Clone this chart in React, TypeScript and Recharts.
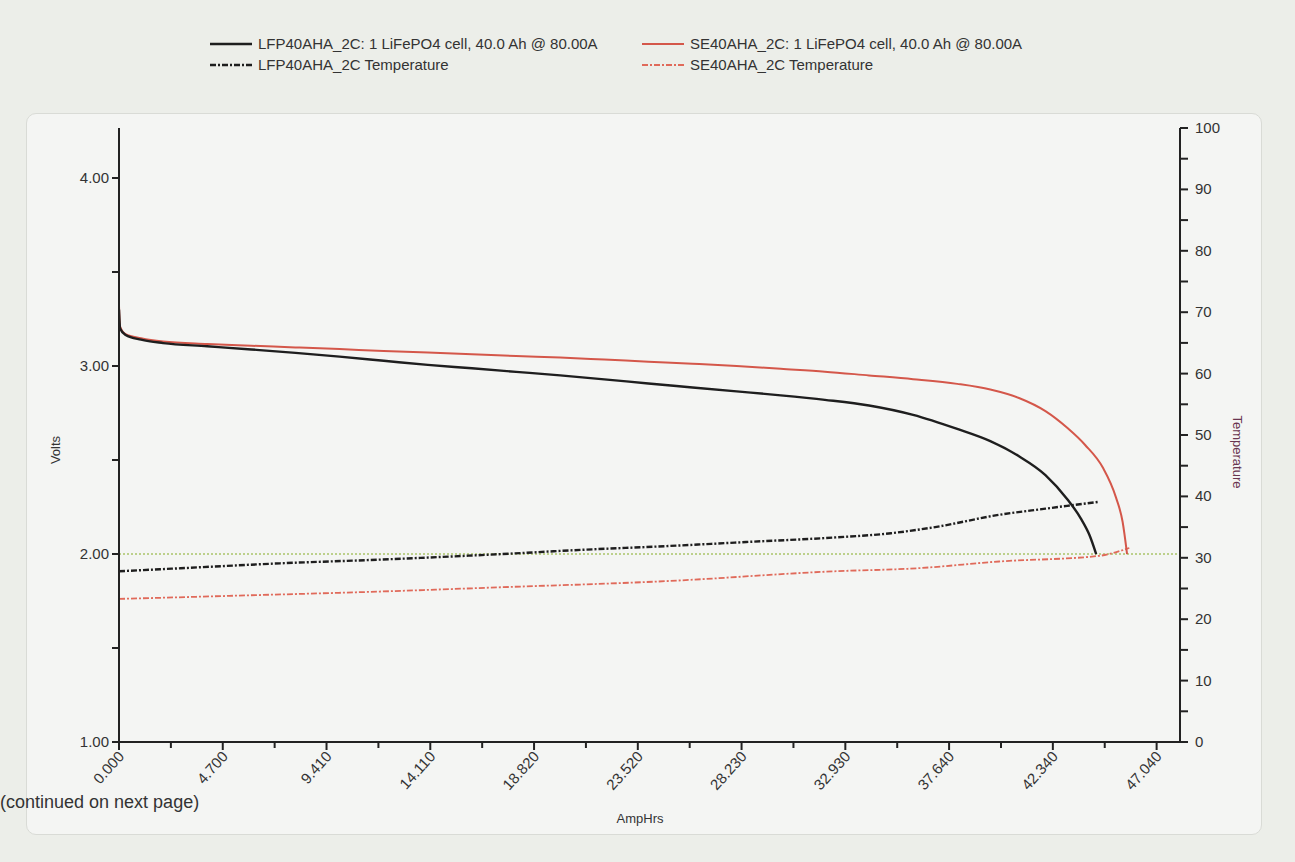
import React from "react";
import { LineChart, Line, XAxis, YAxis, ReferenceLine } from "recharts";

// discharge curves (AmpHrs vs Volts)
const lfpAh = [0, 0.05, 0.3, 1, 2, 4, 6, 8, 10, 12, 14, 16, 18, 20, 22, 24, 26, 28, 30, 32, 34, 36, 38, 39.5, 40.8, 42, 43, 43.6, 44, 44.3];
const lfpVolts = [3.3, 3.2, 3.165, 3.14, 3.122, 3.105, 3.088, 3.07, 3.05, 3.028, 3.006, 2.988, 2.969, 2.95, 2.929, 2.907, 2.886, 2.865, 2.844, 2.82, 2.79, 2.74, 2.665, 2.6, 2.52, 2.42, 2.29, 2.19, 2.1, 2.0];

const seAh = [0, 0.05, 0.3, 1, 2, 4, 6, 8, 10, 12, 14, 16, 18, 20, 22, 24, 26, 28, 30, 32, 34, 36, 38, 39.5, 40.8, 42, 43, 43.8, 44.6, 45.2, 45.5, 45.7];
const seVolts = [3.32, 3.21, 3.17, 3.148, 3.13, 3.117, 3.108, 3.099, 3.09, 3.08, 3.072, 3.063, 3.053, 3.045, 3.034, 3.023, 3.012, 3.0, 2.985, 2.97, 2.95, 2.93, 2.905, 2.875, 2.83, 2.76, 2.67, 2.58, 2.46, 2.3, 2.17, 2.0];

// temperatures
const lfpTempAh = [0, 2.8, 7.3, 11.8, 17.3, 21, 24.8, 28.6, 32.4, 35, 37, 39.9, 42, 44.4];
const lfpTemp = [27.8, 28.3, 29.1, 29.7, 30.6, 31.3, 31.9, 32.6, 33.3, 34.0, 35.0, 37.0, 38.0, 39.1];

const seTempAh = [0, 5, 11.8, 17.3, 24.8, 32.4, 36.2, 39.9, 44.4, 45.8];
const seTemp = [23.3, 23.8, 24.5, 25.2, 26.2, 27.8, 28.3, 29.4, 30.3, 31.6];

// axis ticks
const xMajor = [0, 4.704, 9.408, 14.112, 18.816, 23.52, 28.224, 32.928, 37.632, 42.336, 47.04];
const xLabels = ["0.000", "4.700", "9.410", "14.110", "18.820", "23.520", "28.230", "32.930", "37.640", "42.340", "47.040"];
const voltTicks = [1, 1.5, 2, 2.5, 3, 3.5, 4];
const tempTicks = [0, 5, 10, 15, 20, 25, 30, 35, 40, 45, 50, 55, 60, 65, 70, 75, 80, 85, 90, 95, 100];

const zip = (xs: number[], ys: number[], key: string) => xs.map((x, i) => ({ ah: x, [key]: ys[i] }));

const lfpData = zip(lfpAh, lfpVolts, "v");
const seData = zip(seAh, seVolts, "v");
const lfpTempData = zip(lfpTempAh, lfpTemp, "t");
const seTempData = zip(seTempAh, seTemp, "t");

const xMinor = xMajor.slice(0, -1).map((v, i) => (v + xMajor[i + 1]) / 2);
const xTicks = [...xMajor, ...xMinor].sort((a, b) => a - b);

const FONT = "'Liberation Sans', Arial, sans-serif";
const INK = "#222";
const DASHDOT = "6 2 2 2";

const XTick = (props: any) => {
  const { x, y, payload } = props;
  const idx = xMajor.findIndex((m) => Math.abs(m - payload.value) < 1e-6);
  const major = idx >= 0;
  return (
    <g>
      <line x1={x} y1={y} x2={x} y2={y + (major ? 8 : 6)} stroke={INK} strokeWidth={2} />
      {major && (
        <text
          x={x + 6}
          y={y + 15}
          textAnchor="end"
          transform={`rotate(-48 ${x + 6} ${y + 15})`}
          fontSize={15}
          fill="#333"
          fontFamily={FONT}
        >
          {xLabels[idx]}
        </text>
      )}
    </g>
  );
};

const VoltTick = (props: any) => {
  const { x, y, payload } = props;
  const major = Number.isInteger(payload.value);
  return (
    <g>
      <line x1={x} y1={y} x2={x - 7} y2={y} stroke={INK} strokeWidth={2} />
      {major && (
        <text x={x - 10} y={y + 5} textAnchor="end" fontSize={15} fill="#333" fontFamily={FONT}>
          {payload.value.toFixed(2)}
        </text>
      )}
    </g>
  );
};

const TempTick = (props: any) => {
  const { x, y, payload } = props;
  const major = payload.value % 10 === 0;
  return (
    <g>
      <line x1={x} y1={y} x2={x + 8} y2={y} stroke={INK} strokeWidth={2} />
      {major && (
        <text x={x + 15} y={y + 5} textAnchor="start" fontSize={15} fill="#333" fontFamily={FONT}>
          {payload.value}
        </text>
      )}
    </g>
  );
};

const LegendItem = ({ color, dash, width, label, left, top }: any) => (
  <div style={{ position: "absolute", left, top, display: "flex", alignItems: "center", gap: 6 }}>
    <svg width={42} height={8}>
      <line x1={0} y1={4} x2={42} y2={4} stroke={color} strokeWidth={width} strokeDasharray={dash} />
    </svg>
    <span style={{ fontSize: 15, color: "#333", fontFamily: FONT, whiteSpace: "nowrap" }}>{label}</span>
  </div>
);

export default function App() {
  return (
    <div
      style={{
        position: "absolute",
        left: 0,
        top: 0,
        width: 1295,
        height: 862,
        background: "#eceee9",
        overflow: "hidden",
        fontFamily: FONT,
      }}
    >
      <LegendItem color="#1e1e1e" width={2.4} label="LFP40AHA_2C: 1 LiFePO4 cell, 40.0 Ah @ 80.00A" left={210} top={35} />
      <LegendItem color="#d4574a" width={2} label="SE40AHA_2C: 1 LiFePO4 cell, 40.0 Ah @ 80.00A" left={642} top={35} />
      <LegendItem color="#1e1e1e" width={2.4} dash={DASHDOT} label="LFP40AHA_2C Temperature" left={210} top={56} />
      <LegendItem color="#e06a5a" width={1.8} dash={DASHDOT} label="SE40AHA_2C Temperature" left={642} top={56} />

      <div
        style={{
          position: "absolute",
          left: 26,
          top: 113,
          width: 1234,
          height: 720,
          background: "#f4f5f3",
          border: "1px solid #d9dbd6",
          borderRadius: 10,
        }}
      />

      <div style={{ position: "absolute", left: 0, top: 0 }}>
        <LineChart width={1295} height={862} margin={{ top: 128, right: 60, bottom: 0, left: 59 }}>
          <XAxis
            type="number"
            dataKey="ah"
            domain={[0, 48.1]}
            allowDataOverflow
            ticks={xTicks}
            interval={0}
            tick={<XTick />}
            tickSize={0}
            tickMargin={0}
            tickLine={false}
            axisLine={{ stroke: INK, strokeWidth: 2 }}
            height={120}
          />
          <YAxis
            yAxisId="v"
            orientation="left"
            type="number"
            domain={[1, 4.266]}
            allowDataOverflow
            ticks={voltTicks}
            interval={0}
            tick={<VoltTick />}
            tickSize={0}
            tickMargin={0}
            tickLine={false}
            axisLine={{ stroke: INK, strokeWidth: 2 }}
            width={60}
          />
          <YAxis
            yAxisId="t"
            orientation="right"
            type="number"
            domain={[0, 100]}
            ticks={tempTicks}
            interval={0}
            tick={<TempTick />}
            tickSize={0}
            tickMargin={0}
            tickLine={false}
            axisLine={{ stroke: INK, strokeWidth: 2 }}
            width={55}
          />
          <ReferenceLine yAxisId="v" y={2} stroke="#a9c46a" strokeWidth={1.5} strokeDasharray="2 2" />
          <Line
            yAxisId="t"
            data={seTempData}
            dataKey="t"
            type="monotone"
            stroke="#e06a5a"
            strokeWidth={1.8}
            strokeDasharray={DASHDOT}
            dot={false}
            isAnimationActive={false}
          />
          <Line
            yAxisId="t"
            data={lfpTempData}
            dataKey="t"
            type="monotone"
            stroke="#1e1e1e"
            strokeWidth={2.4}
            strokeDasharray={DASHDOT}
            dot={false}
            isAnimationActive={false}
          />
          <Line
            yAxisId="v"
            data={seData}
            dataKey="v"
            type="monotone"
            stroke="#d4574a"
            strokeWidth={2}
            dot={false}
            isAnimationActive={false}
          />
          <Line
            yAxisId="v"
            data={lfpData}
            dataKey="v"
            type="monotone"
            stroke="#1e1e1e"
            strokeWidth={2.4}
            dot={false}
            isAnimationActive={false}
          />
        </LineChart>
      </div>

      <div
        style={{
          position: "absolute",
          left: 55,
          top: 450,
          transform: "translate(-50%, -50%) rotate(-90deg)",
          fontSize: 13,
          color: "#333",
        }}
      >
        Volts
      </div>
      <div
        style={{
          position: "absolute",
          left: 1237,
          top: 452,
          transform: "translate(-50%, -50%) rotate(90deg)",
          fontSize: 13,
          color: "#6a3550",
          whiteSpace: "nowrap",
        }}
      >
        Temperature
      </div>
      <div
        style={{
          position: "absolute",
          left: 640,
          top: 818,
          transform: "translate(-50%, -50%)",
          fontSize: 13,
          color: "#333",
        }}
      >
        AmpHrs
      </div>
      <div
        style={{
          position: "absolute",
          left: 0,
          top: 792,
          fontSize: 18,
          color: "#333",
          whiteSpace: "nowrap",
        }}
      >
        (continued on next page)
      </div>
    </div>
  );
}
